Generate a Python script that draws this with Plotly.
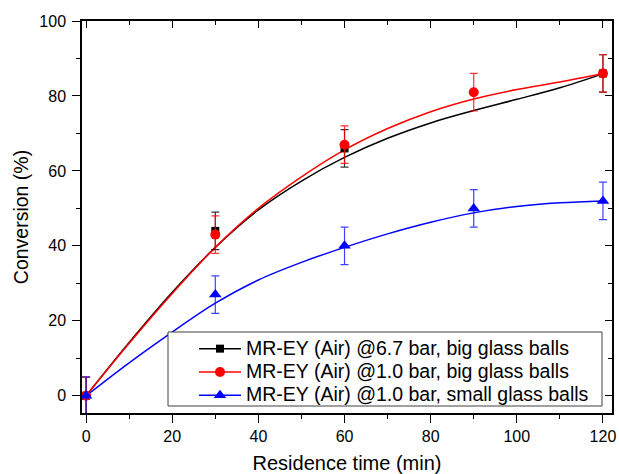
import plotly.graph_objects as go

# ---- data ----
t_black = [0, 30, 60, 120]
y_black = [0, 44, 66, 86]
e_black = [5, 5, 5, 5]

t_red = [0, 30, 60, 90, 120]
y_red = [0, 43, 67, 81, 86]
e_red = [5, 5, 5, 5, 5]

t_blue = [0, 30, 60, 90, 120]
y_blue = [0, 27, 40, 50, 52]
e_blue = [5, 5, 5, 5, 5]

fit_t = [0, 10, 20, 30, 40, 50, 60, 70, 80, 90, 100, 110, 120]
fit_black = [0, 14.2, 27.6, 39.6, 49.6, 57.3, 63.6, 68.7, 72.8, 76.1, 79.1, 82.2, 85.9]
fit_red = [0, 14.0, 27.3, 39.6, 50.0, 58.4, 65.6, 71.3, 75.8, 79.2, 81.7, 83.7, 85.9]
fit_blue = [0, 8.8, 17.0, 24.7, 30.9, 35.6, 39.6, 43.2, 46.3, 48.8, 50.5, 51.5, 52.0]

names = [
    "MR-EY (Air) @6.7 bar, big glass balls",
    "MR-EY (Air) @1.0 bar, big glass balls",
    "MR-EY (Air) @1.0 bar, small glass balls",
]

x_ticks = [0, 20, 40, 60, 80, 100, 120]
y_ticks = [0, 20, 40, 60, 80, 100]

FONT = "Arial, Liberation Sans, sans-serif"

series = [
    (t_black, y_black, e_black, fit_black, "#000000", "rgba(0,0,0,0.8)", "square", 8, names[0]),
    (t_red, y_red, e_red, fit_red, "#ff0000", "rgba(255,0,0,0.8)", "circle", 10, names[1]),
    (t_blue, y_blue, e_blue, fit_blue, "#0000ff", "rgba(0,0,255,0.75)", "triangle-up", 11, names[2]),
]

fig = go.Figure()

# fit curves
for t, y, e, fit, col, ecol, sym, size, name in series:
    fig.add_trace(go.Scatter(
        x=fit_t, y=fit, mode="lines", line=dict(color=col, width=1.5, shape="spline"),
        showlegend=False, hoverinfo="skip"))

# data points with error bars
for t, y, e, fit, col, ecol, sym, size, name in series:
    fig.add_trace(go.Scatter(
        x=t, y=y, mode="markers",
        marker=dict(color=col, symbol=sym, size=size, line=dict(width=0)),
        error_y=dict(type="data", array=e, visible=True, color=ecol, thickness=1.2, width=4),
        showlegend=False))

# legend entries (line + marker)
for t, y, e, fit, col, ecol, sym, size, name in series:
    fig.add_trace(go.Scatter(
        x=[None], y=[None], mode="lines+markers",
        name="<span style='font-size:19.5px'>" + name + "</span>",
        line=dict(color=col, width=1.5),
        marker=dict(color=col, symbol=sym, size=size)))

axis_common = dict(
    showline=True, linecolor="#000000", linewidth=1.5,
    showgrid=False, zeroline=False, automargin=False,
    ticks="outside", ticklen=8, tickwidth=1.2, tickcolor="#000000",
    tickfont=dict(family=FONT, size=16, color="#000000"),
    ticklabeloverflow="allow",
)
mirror_common = dict(
    showline=True, linecolor="#000000", linewidth=1.5, showgrid=False, zeroline=False,
    ticks="inside", ticklen=7, tickwidth=1.2, tickcolor="#000000",
    showticklabels=False, automargin=False,
    minor=dict(dtick=10, ticks="inside", ticklen=4, tickwidth=1.2, tickcolor="#000000"),
)

W, H = 619, 474
L, T, R, B = 82, 21, 7, 61
PW, PH = W - L - R, H - T - B


def px_x(page_x):
    return (page_x - L) / PW


def px_y(page_y):
    return (H - B - page_y) / PH


fig.update_layout(
    width=W, height=H,
    margin=dict(l=L, r=R, t=T, b=B),
    paper_bgcolor="white", plot_bgcolor="white",
    font=dict(family=FONT, color="#000000"),
    xaxis=dict(
        **axis_common, range=[-0.95, 122.1], tickvals=x_ticks, ticklabelstandoff=0,
        minor=dict(dtick=10, ticks="outside", ticklen=4, tickwidth=1.2, tickcolor="#000000"),
        title=dict(text="Residence time (min)", font=dict(family=FONT, size=20), standoff=19),
    ),
    yaxis=dict(
        **axis_common, range=[-4.6, 100], tickvals=y_ticks, ticklabelstandoff=3,
        minor=dict(dtick=10, ticks="outside", ticklen=4, tickwidth=1.2, tickcolor="#000000"),
        title=dict(text="Conversion (%)", font=dict(family=FONT, size=19.5), standoff=6),
    ),
    xaxis2=dict(**mirror_common, overlaying="x", side="top", matches="x",
                range=[-0.95, 122.1], tickvals=x_ticks),
    yaxis2=dict(**mirror_common, overlaying="y", side="right", matches="y",
                range=[-4.6, 100], tickvals=y_ticks),
    legend=dict(
        x=px_x(194), y=px_y(332), xanchor="left", yanchor="top",
        bgcolor="rgba(0,0,0,0)", borderwidth=0,
        font=dict(family=FONT, size=15.6, color="#000000"),
        itemwidth=42, tracegroupgap=0,
    ),
    shapes=[dict(
        type="rect", xref="paper", yref="paper", layer="above",
        x0=px_x(168), x1=px_x(602), y0=px_y(406), y1=px_y(332),
        line=dict(color="#404040", width=1), fillcolor="white",
    )],
)

# invisible trace so the mirrored axes are rendered
fig.add_trace(go.Scatter(x=[None], y=[None], xaxis="x2", yaxis="y2",
                         showlegend=False, hoverinfo="skip"))

# remove the browser's default 8px body margin so the figure fills the window exactly
fig.write_html(
    "out.html",
    config={"displayModeBar": False},
    post_script="document.body.style.margin='0';document.body.style.overflow='hidden';",
)
